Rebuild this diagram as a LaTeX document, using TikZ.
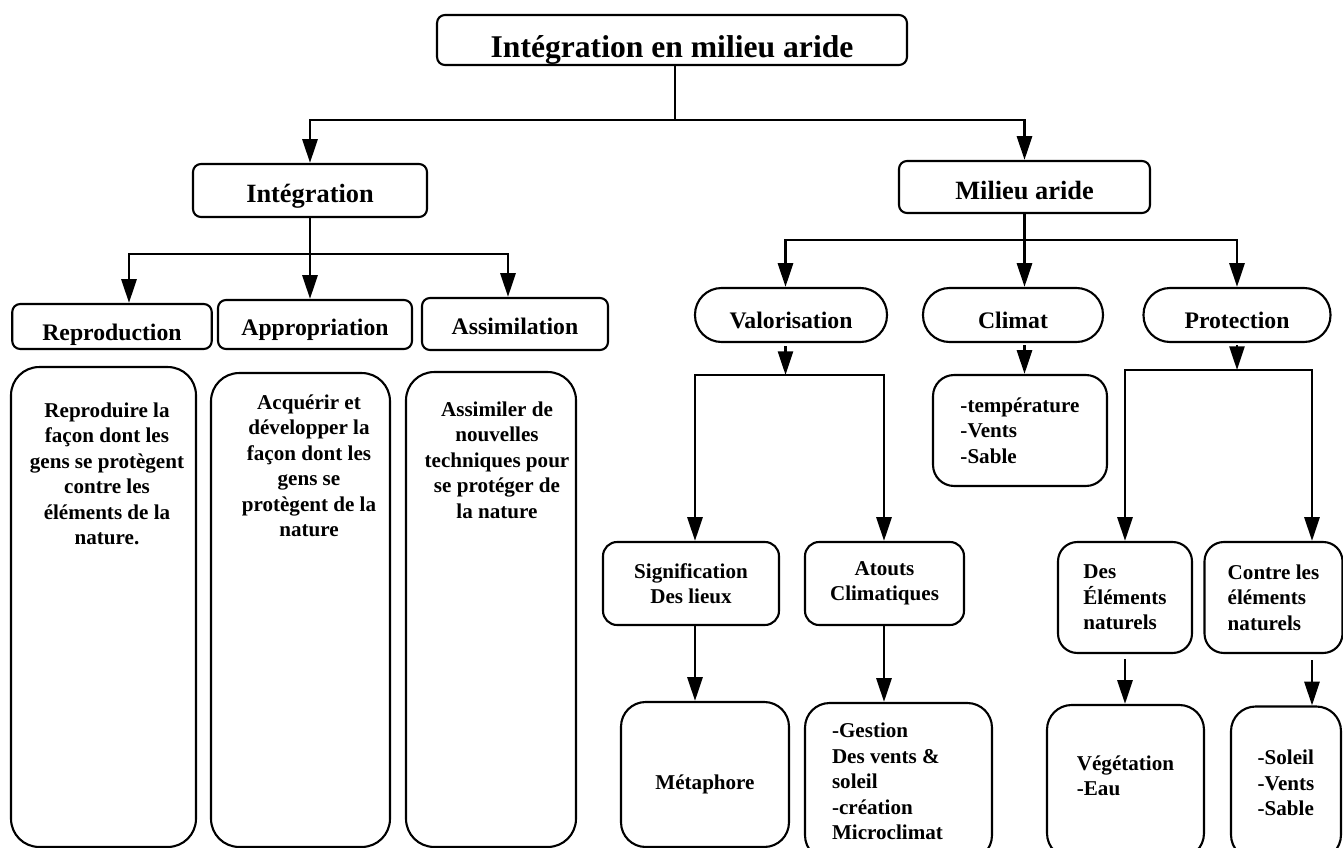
\documentclass[tikz,border=0pt]{standalone}
\usepackage{fontspec}
\setmainfont{Liberation Serif}
\usepackage{tikz}
\usetikzlibrary{arrows.meta, positioning, calc}

\begin{document}
\begin{tikzpicture}[
    x=0.02cm, y=-0.02cm,
    box/.style={draw, line width=1.2pt, inner sep=0pt, align=center},
    hdr/.style={box, rounded corners=4.5pt, font=\fontsize{13.5}{16}\selectfont\bfseries,
                text height=15.5pt, text depth=0pt},
    top/.style={hdr, font=\fontsize{15}{18}\selectfont\bfseries, text height=14.2pt},
    oval/.style={hdr, rounded corners=0.53cm},
    tall/.style={box, rounded corners=16pt},
    leaf/.style={box, font=\fontsize{12}{14.5}\selectfont\bfseries},
    desc/.style={font=\fontsize{12}{14.5}\selectfont\bfseries, align=center, inner sep=0pt},
    edge/.style={line width=1.6pt},
    arr/.style={-{Triangle[length=13.5pt, width=8.5pt]}, line width=1.6pt}
  ]
    \useasboundingbox (0,0) rectangle (1343,848);
    \clip (0,0) rectangle (1343,848);

    % Root and first level
    \node[box, rounded corners=4.5pt, minimum width=9.4cm, minimum height=1cm,
          font=\fontsize{18}{22}\selectfont\bfseries, text height=19.8pt, text depth=0pt]
          (root) at (672,40) {Intégration en milieu aride};
    \node[top, minimum width=4.68cm, minimum height=1.06cm] (integ)  at (310,190.5) {Intégration};
    \node[top, minimum width=5.02cm, minimum height=1.04cm] (milieu) at (1024.5,187) {Milieu aride};

    % Integration branch
    \node[hdr, minimum width=3.99cm, minimum height=0.9cm]  (repro) at (112,326.5) {Reproduction};
    \node[hdr, minimum width=3.88cm, minimum height=0.98cm, text height=13pt] (appro) at (315,324.5) {Appropriation};
    \node[hdr, minimum width=3.72cm, minimum height=1.04cm, text height=11.5pt] (assim) at (515,324) {Assimilation};

    \node[tall, minimum width=3.7cm,  minimum height=9.6cm]  (reprobox) at (103.5,607) {};
    \node[tall, minimum width=3.58cm, minimum height=9.48cm] (approbox) at (300.5,610) {};
    \node[tall, minimum width=3.4cm,  minimum height=9.5cm]  (assimbox) at (491,609.5) {};
    \node[desc] at (107,474) {Reproduire la\\façon dont les\\gens se protègent\\contre les\\éléments de la\\nature.};
    \node[desc] at (309,466) {Acquérir et\\développer la\\façon dont les\\gens se\\protègent de la\\nature};
    \node[desc] at (497,460) {Assimiler de\\nouvelles\\techniques pour\\se protéger de\\la nature};

    % Arid milieu branch
    \node[oval, minimum width=3.84cm, minimum height=1.08cm] (valor)  at (791,315)  {Valorisation};
    \node[oval, minimum width=3.6cm,  minimum height=1.08cm] (climat) at (1013,315) {Climat};
    \node[oval, minimum width=3.74cm, minimum height=1.08cm] (protec) at (1237,315) {Protection};

    \node[leaf, align=left, rounded corners=12pt, minimum width=3.48cm, minimum height=2.22cm]
          (climtxt) at (1020,430.5) {-température\\-Vents\\-Sable};

    \node[leaf, rounded corners=8pt, minimum width=3.52cm, minimum height=1.66cm] (signif) at (691,583.5) {Signification\\Des lieux};
    \node[leaf, rounded corners=8pt, minimum width=3.18cm, minimum height=1.66cm] (atouts) at (884.5,583.5) {Atouts\\Climatiques};
    \node[leaf, rounded corners=14pt, minimum width=3.36cm, minimum height=2.9cm,
          text height=17pt, text depth=0pt] (metaph) at (705,774.5) {Métaphore};
    \node[leaf, align=flush left, rounded corners=14pt, inner xsep=0.54cm, text width=2.66cm,
          minimum height=3.14cm] (gestion) at (898.5,781.5) {-Gestion\\Des vents \&\\soleil\\-création\\Microclimat};

    \node[leaf, align=left, rounded corners=11pt, minimum width=2.68cm, minimum height=2.22cm] (deselem) at (1125,597.5) {Des\\Éléments\\naturels};
    \node[leaf, align=left, rounded corners=11pt, minimum width=2.76cm, minimum height=2.22cm] (contre)  at (1273.5,597.5) {Contre les\\éléments\\naturels};
    \node[leaf, align=left, rounded corners=14pt, minimum width=3.14cm, minimum height=3.06cm,
          text depth=6.8pt] (veget) at (1125.5,781.5) {Végétation\\-Eau};
    \node[leaf, align=left, rounded corners=14pt, minimum width=2.2cm,  minimum height=3.06cm] (soleil) at (1286,783) {-Soleil\\-Vents\\-Sable};

    % Junction points
    \coordinate (tjoin)  at (675,120);
    \coordinate (ijoin)  at (310,254);
    \coordinate (ileft)  at (129,254);
    \coordinate (iright) at (508,254);
    \coordinate (mjoin)  at (1024.5,240);
    \coordinate (mleft)  at (785.5,240);
    \coordinate (mright) at (1237,240);
    \coordinate (vjoin)  at (785.5,375);
    \coordinate (vleft)  at (695,375);
    \coordinate (vright) at (884,375);
    \coordinate (pjoin)  at (1237,370);
    \coordinate (pleft)  at (1125,370);
    \coordinate (pright) at (1312,370);

    % Root split
    \draw[edge] (root.south -| tjoin) -- (tjoin);
    \draw[arr] (tjoin) -| (integ);
    \draw[arr] (tjoin) -| (milieu);

    % Integration split
    \draw[edge] (integ.south) -- (ijoin);
    \draw[arr] (ijoin) -| (ileft |- repro.north);
    \draw[arr] (ijoin) -- (ijoin |- appro.north);
    \draw[arr] (ijoin) -| (iright |- assim.north);

    % Milieu split
    \draw[edge] (milieu.south) -- (mjoin);
    \draw[arr] (mjoin) -| (mleft |- valor.north);
    \draw[arr] (mjoin) -- (mjoin |- climat.north);
    \draw[arr] (mjoin) -| (mright |- protec.north);

    % Valorisation
    \draw[arr] ($(valor.south -| vjoin)+(0,3)$) -- (vjoin);
    \draw[arr] (vjoin) -| (vleft |- signif.north);
    \draw[arr] (vjoin) -| (vright |- atouts.north);
    \draw[arr] (vleft |- signif.south) -- (vleft |- metaph.north);
    \draw[arr] (vright |- atouts.south) -- (vright |- gestion.north);

    % Climat
    \draw[arr] ($(climat.south -| mjoin)+(0,2)$) -- (mjoin |- climtxt.north);

    % Protection
    \draw[arr] ($(protec.south)+(0,2)$) -- (pjoin);
    \draw[arr] (pjoin) -| (pleft |- deselem.north);
    \draw[arr] (pjoin) -| (pright |- contre.north);
    \draw[arr] ($(deselem.south)+(0,5)$) -- (pleft |- veget.north);
    \draw[arr] ($(pright |- contre.south)+(0,6)$) -- (pright |- soleil.north);
  \end{tikzpicture}
\end{document}
